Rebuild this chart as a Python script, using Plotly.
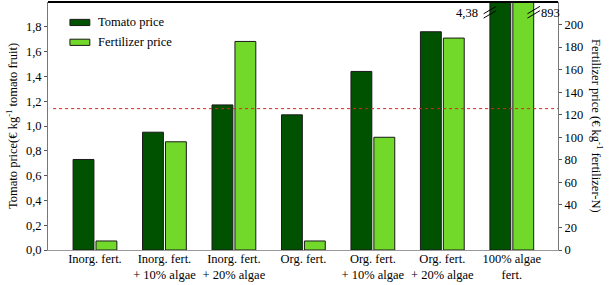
import plotly.graph_objects as go

categories = ["Inorg. fert.", "Inorg. fert.<br>+ 10% algae", "Inorg. fert.<br>+ 20% algae",
              "Org. fert.", "Org. fert.<br>+ 10% algae", "Org. fert.<br>+ 20% algae",
              "100% algae<br>fert."]
tomato_price = [0.73, 0.95, 1.17, 1.09, 1.44, 1.76, 4.38]
fertilizer_price = [8, 96, 185, 8, 100, 188, 893]
reference_price = 1.14
left_ticks = [0, 0.2, 0.4, 0.6, 0.8, 1.0, 1.2, 1.4, 1.6, 1.8]
left_ticklabels = ["0,0", "0,2", "0,4", "0,6", "0,8", "1,0", "1,2", "1,4", "1,6", "1,8"]
right_ticks = [0, 20, 40, 60, 80, 100, 120, 140, 160, 180, 200]
break_labels = ["4,38", "893"]

DARK = "#005200"
LIGHT = "#72d82a"
FONT = "Liberation Serif, Times New Roman, serif"
FS = 12.5
F = dict(family=FONT, size=FS, color="black")

xs = list(range(len(categories)))
fig = go.Figure()
fig.add_trace(go.Bar(x=xs, y=tomato_price, name="Tomato price", marker_color=DARK,
                     marker_line=dict(color="#1a1a1a", width=1), offsetgroup="1",
                     yaxis="y", showlegend=False))
fig.add_trace(go.Bar(x=xs, y=fertilizer_price, name="Fertilizer price", marker_color=LIGHT,
                     marker_line=dict(color="#1a1a1a", width=1), offsetgroup="2",
                     yaxis="y2", showlegend=False))

bargap = 0.34
groupgap = 0.09
fig.update_layout(
    width=609, height=285,
    margin=dict(l=48, r=51, t=2, b=35),
    paper_bgcolor="white", plot_bgcolor="white",
    hovermode=False,
    barmode="group", bargap=bargap, bargroupgap=groupgap,
    font=F,
    xaxis=dict(tickmode="array", tickvals=xs, ticktext=categories, range=[-0.676, 6.665],
               showline=True, linecolor="#999999", linewidth=1, ticks="", showgrid=False,
               zeroline=False, tickfont=F, automargin=False, ticklabelstandoff=-3),
    yaxis=dict(range=[0, 2.0], tickmode="array", tickvals=left_ticks, ticktext=left_ticklabels,
               showline=True, linecolor="#777777", linewidth=1, ticks="outside", ticklen=3,
               tickcolor="#555555", showgrid=False, zeroline=False, tickfont=F, automargin=False),
    yaxis2=dict(range=[0, 220], overlaying="y", side="right", tickmode="array", tickvals=right_ticks,
                showline=True, linecolor="#777777", linewidth=1, ticks="outside", ticklen=3,
                tickcolor="#555555", showgrid=False, zeroline=False, tickfont=F, automargin=False),
)

shapes = []
# top border
shapes.append(dict(type="line", xref="paper", yref="paper", x0=0, x1=1, y0=1, y1=1,
                   line=dict(color="black", width=2), layer="above"))
# reference price line
shapes.append(dict(type="line", xref="paper", yref="y", x0=0.01, x1=1, y0=reference_price,
                   y1=reference_price, line=dict(color="#dd2222", width=1, dash="dot")))
# break marks on the last group
slot = (1 - bargap) / 2
last = len(categories) - 1
dark_left = last - slot + slot * groupgap / 2
light_right = last + slot - slot * groupgap / 2
for xe in (dark_left, light_right):
    for dy in (0, 0.035):
        shapes.append(dict(type="line", xref="x", yref="y",
                           x0=xe - 0.09, x1=xe + 0.09, y0=1.87 + dy, y1=1.93 + dy,
                           line=dict(color="black", width=1)))
# legend swatches
shapes.append(dict(type="rect", xref="paper", yref="paper", x0=0.043, x1=0.082, y0=0.905, y1=0.93,
                   fillcolor=DARK, line=dict(color="#1a1a1a", width=1)))
shapes.append(dict(type="rect", xref="paper", yref="paper", x0=0.043, x1=0.082, y0=0.825, y1=0.85,
                   fillcolor=LIGHT, line=dict(color="#1a1a1a", width=1)))
fig.update_layout(shapes=shapes)

annotations = [
    dict(xref="paper", yref="paper", x=0.095, y=0.92, text="Tomato price", showarrow=False,
         xanchor="left", yanchor="middle", font=F),
    dict(xref="paper", yref="paper", x=0.095, y=0.84, text="Fertilizer price", showarrow=False,
         xanchor="left", yanchor="middle", font=F),
    dict(xref="x", yref="y", x=dark_left - 0.14, y=1.91, text=break_labels[0], showarrow=False,
         xanchor="right", yanchor="middle", font=F),
    dict(xref="x", yref="y", x=light_right + 0.08, y=1.91, text=break_labels[1], showarrow=False,
         xanchor="left", yanchor="middle", font=F),
    dict(xref="paper", yref="paper", x=-46 / 510, y=0.5, xanchor="left", yanchor="middle",
         text="Tomato price(€ kg<sup>-1</sup> tomato fruit)", textangle=-90, showarrow=False, font=F),
    dict(xref="paper", yref="paper", x=1 + 49 / 510, y=0.5, xanchor="right", yanchor="middle",
         text="Fertilizer price (€ kg<sup>-1</sup> fertilizer-N)", textangle=90, showarrow=False, font=F),
]
fig.update_layout(annotations=annotations)

fig.write_html("out.html", config={"displayModeBar": False, "displaylogo": False},
               post_script="document.body.style.margin='0';document.body.style.padding='0';"
                           "document.documentElement.style.overflow='hidden';")
